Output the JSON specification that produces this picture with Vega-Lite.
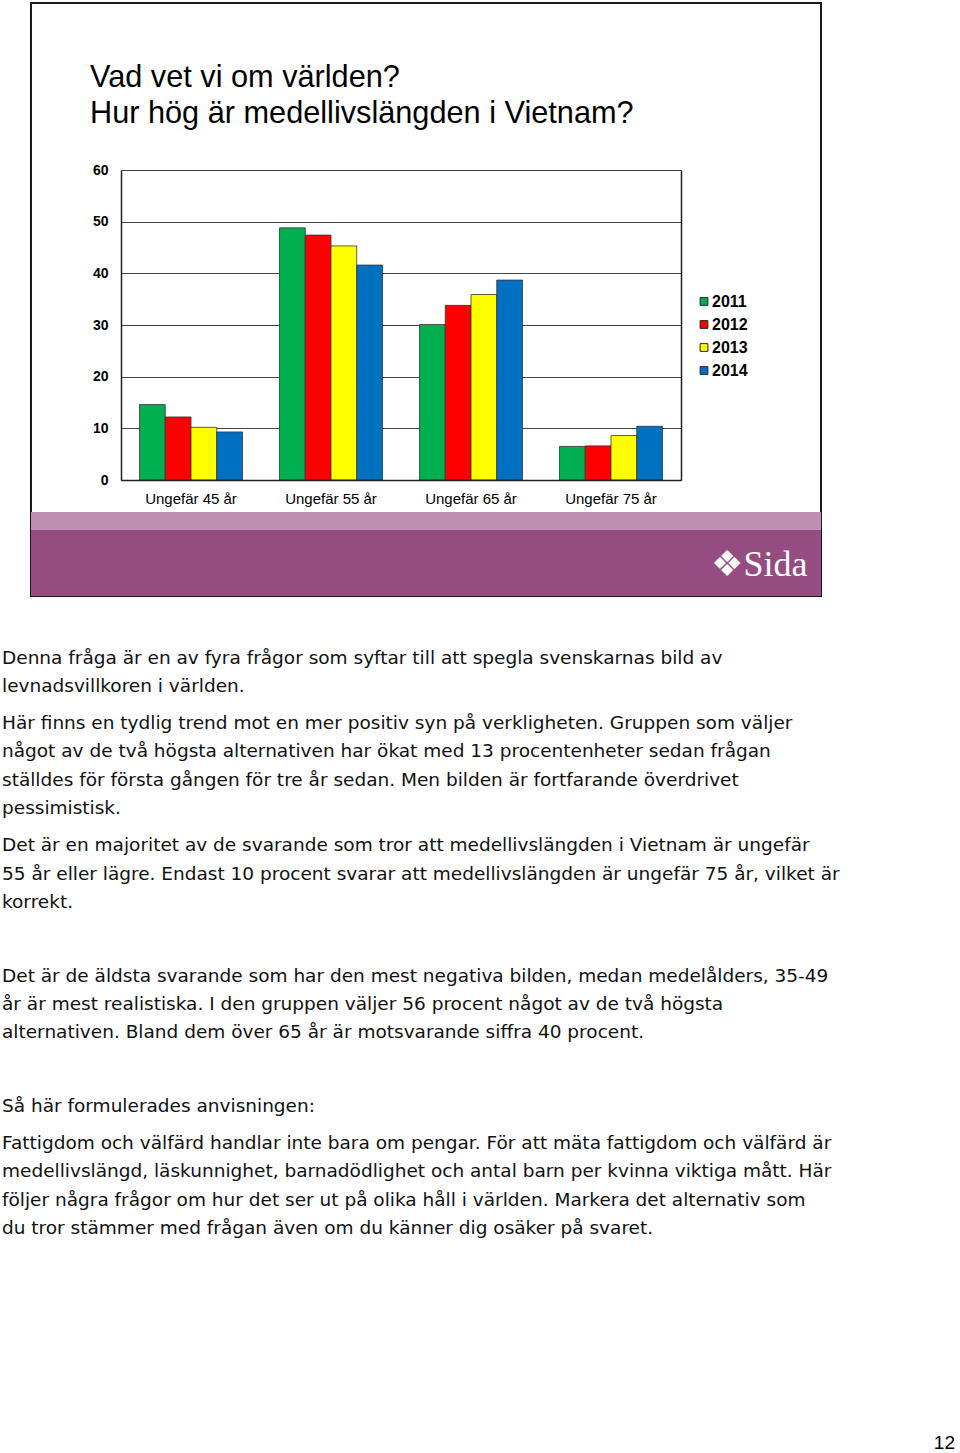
{
  "$schema": "https://vega.github.io/schema/vega-lite/v6.json",
  "background": "white",
  "padding": {"left": 2, "top": 2, "right": 0, "bottom": 0},
  "config": {"view": {"stroke": null}, "font": "Liberation Sans"},
  "spacing": 46.8,
  "vconcat": [
    {
      "spacing": 0,
      "hconcat": [
        {"width": 28, "height": 20, "data": {"values": []}, "mark": "point"},
        {
          "width": 790,
          "height": 593,
          "view": {"stroke": "#1a1a1a", "strokeWidth": 2, "fill": "white"},
          "title": {
            "text": ["Vad vet vi om världen?", "Hur hög är medellivslängden i Vietnam?"],
            "anchor": "start",
            "frame": "group",
            "dx": 59,
            "offset": -127,
            "font": "Liberation Sans",
            "fontSize": 30.7,
            "fontWeight": "normal",
            "color": "#000000",
            "lineHeight": 36
          },
          "resolve": {"axis": {"y": "independent"}},
          "layer": [
            {
              "data": {"values": [
                {"option": "Ungefär 45 år", "year": "2011", "percent": 14.6},
                {"option": "Ungefär 45 år", "year": "2012", "percent": 12.2},
                {"option": "Ungefär 45 år", "year": "2013", "percent": 10.2},
                {"option": "Ungefär 45 år", "year": "2014", "percent": 9.3},
                {"option": "Ungefär 55 år", "year": "2011", "percent": 48.8},
                {"option": "Ungefär 55 år", "year": "2012", "percent": 47.4},
                {"option": "Ungefär 55 år", "year": "2013", "percent": 45.3},
                {"option": "Ungefär 55 år", "year": "2014", "percent": 41.6},
                {"option": "Ungefär 65 år", "year": "2011", "percent": 30.1},
                {"option": "Ungefär 65 år", "year": "2012", "percent": 33.8},
                {"option": "Ungefär 65 år", "year": "2013", "percent": 35.9},
                {"option": "Ungefär 65 år", "year": "2014", "percent": 38.7},
                {"option": "Ungefär 75 år", "year": "2011", "percent": 6.5},
                {"option": "Ungefär 75 år", "year": "2012", "percent": 6.6},
                {"option": "Ungefär 75 år", "year": "2013", "percent": 8.6},
                {"option": "Ungefär 75 år", "year": "2014", "percent": 10.4}
              ]},
              "mark": {"type": "bar", "stroke": "#333333", "strokeWidth": 0.8},
              "encoding": {
                "x": {
                  "field": "option", "type": "nominal",
                  "sort": ["Ungefär 45 år", "Ungefär 55 år", "Ungefär 65 år", "Ungefär 75 år"],
                  "scale": {"range": [90, 650], "paddingInner": 0.264, "paddingOuter": 0.132},
                  "axis": {
                    "orient": "bottom", "offset": -116, "zindex": 1,
                    "domain": true, "domainColor": "#222222", "domainWidth": 1.5,
                    "ticks": false, "tickSize": 0, "labelPadding": 11,
                    "labelFont": "Liberation Sans", "labelFontSize": 15, "labelColor": "#000000", "labelAngle": 0,
                    "title": "❖Sida",
                    "titleFont": "Liberation Serif", "titleFontSize": 36, "titleFontWeight": "normal",
                    "titleColor": "#ffffff", "titleAlign": "right", "titleBaseline": "middle",
                    "titleX": 776, "titleY": 84
                  }
                },
                "xOffset": {"field": "year", "type": "nominal", "scale": {"paddingInner": 0, "paddingOuter": 0}},
                "y": {
                  "field": "percent", "type": "quantitative",
                  "scale": {"domain": [0, 60], "range": [477, 167], "nice": false, "zero": false},
                  "axis": {
                    "orient": "left", "offset": -90, "values": [0, 10, 20, 30, 40, 50, 60],
                    "grid": true, "gridColor": "#444444", "gridWidth": 1, "gridOpacity": 1,
                    "domain": true, "domainColor": "#222222", "domainWidth": 1.5,
                    "ticks": false, "tickSize": 0, "labelPadding": 13,
                    "labelFont": "Liberation Sans", "labelFontSize": 14, "labelFontWeight": "bold", "labelColor": "#000000",
                    "title": null
                  }
                },
                "color": {
                  "field": "year", "type": "nominal",
                  "scale": {"domain": ["2011", "2012", "2013", "2014"], "range": ["#00b050", "#ff0000", "#ffff00", "#0070c0"]},
                  "legend": {
                    "orient": "none", "legendX": 694, "legendY": 290.5, "title": null,
                    "symbolType": "square", "symbolSize": 60, "symbolStrokeColor": "#222222", "symbolStrokeWidth": 1,
                    "labelFont": "Liberation Sans", "labelFontSize": 16, "labelFontWeight": "bold", "labelColor": "#000000",
                    "labelOffset": 0, "rowPadding": 7
                  }
                }
              }
            },
            {
              "data": {"values": [{"band": "light"}]},
              "mark": {"type": "rect", "color": "#bf90b3"},
              "encoding": {
                "y": {
                  "datum": -6.19, "type": "quantitative",
                  "scale": {"domain": [0, 60], "range": [477, 167], "nice": false, "zero": false},
                  "axis": {"orient": "right", "offset": -140, "labels": false, "grid": false, "ticks": false,
                           "domain": true, "domainColor": "#222222", "domainWidth": 1.5, "title": null}
                },
                "y2": {"datum": -9.68}
              }
            },
            {
              "data": {"values": [{"band": "dark"}]},
              "mark": {"type": "rect", "color": "#954c80"},
              "encoding": {
                "y": {"datum": -9.68, "type": "quantitative", "axis": null},
                "y2": {"datum": -22.45}
              }
            }
          ]
        }
      ]
    },
    {
      "spacing": 8.14,
      "title": {"text": "12", "orient": "bottom", "anchor": "end", "offset": 192, "font": "Liberation Sans", "fontSize": 19, "fontWeight": "normal", "color": "#000000"},
      "vconcat": [
        {
          "width": 953, "height": 56.66,
          "data": {"values": [
            {"line": 1, "text": "Denna fråga är en av fyra frågor som syftar till att spegla svenskarnas bild av"},
            {"line": 2, "text": "levnadsvillkoren i världen."}
          ]},
          "mark": {"type": "text", "align": "left", "baseline": "middle", "font": "DejaVu Sans", "fontSize": 18.5, "color": "#111111"},
          "encoding": {
            "y": {"field": "line", "type": "ordinal", "axis": null, "scale": {"paddingInner": 0, "paddingOuter": 0}},
            "x": {"datum": 0, "type": "quantitative", "scale": {"domain": [0, 1]}, "axis": null},
            "text": {"field": "text"}
          }
        },
        {
          "width": 953, "height": 113.32,
          "data": {"values": [
            {"line": 1, "text": "Här finns en tydlig trend mot en mer positiv syn på verkligheten. Gruppen som väljer"},
            {"line": 2, "text": "något av de två högsta alternativen har ökat med 13 procentenheter sedan frågan"},
            {"line": 3, "text": "ställdes för första gången för tre år sedan. Men bilden är fortfarande överdrivet"},
            {"line": 4, "text": "pessimistisk."}
          ]},
          "mark": {"type": "text", "align": "left", "baseline": "middle", "font": "DejaVu Sans", "fontSize": 18.5, "color": "#111111"},
          "encoding": {
            "y": {"field": "line", "type": "ordinal", "axis": null, "scale": {"paddingInner": 0, "paddingOuter": 0}},
            "x": {"datum": 0, "type": "quantitative", "scale": {"domain": [0, 1]}, "axis": null},
            "text": {"field": "text"}
          }
        },
        {
          "width": 953, "height": 84.99,
          "data": {"values": [
            {"line": 1, "text": "Det är en majoritet av de svarande som tror att medellivslängden i Vietnam är ungefär"},
            {"line": 2, "text": "55 år eller lägre. Endast 10 procent svarar att medellivslängden är ungefär 75 år, vilket är"},
            {"line": 3, "text": "korrekt."}
          ]},
          "mark": {"type": "text", "align": "left", "baseline": "middle", "font": "DejaVu Sans", "fontSize": 18.5, "color": "#111111"},
          "encoding": {
            "y": {"field": "line", "type": "ordinal", "axis": null, "scale": {"paddingInner": 0, "paddingOuter": 0}},
            "x": {"datum": 0, "type": "quantitative", "scale": {"domain": [0, 1]}, "axis": null},
            "text": {"field": "text"}
          }
        },
        {
          "width": 953, "height": 28.33,
          "data": {"values": [{"line": 1, "text": ""}]},
          "mark": {"type": "text", "align": "left", "baseline": "middle", "font": "DejaVu Sans", "fontSize": 18.5, "color": "#111111"},
          "encoding": {
            "y": {"field": "line", "type": "ordinal", "axis": null, "scale": {"paddingInner": 0, "paddingOuter": 0}},
            "x": {"datum": 0, "type": "quantitative", "scale": {"domain": [0, 1]}, "axis": null},
            "text": {"field": "text"}
          }
        },
        {
          "width": 953, "height": 84.99,
          "data": {"values": [
            {"line": 1, "text": "Det är de äldsta svarande som har den mest negativa bilden, medan medelålders, 35-49"},
            {"line": 2, "text": "år är mest realistiska. I den gruppen väljer 56 procent något av de två högsta"},
            {"line": 3, "text": "alternativen. Bland dem över 65 år är motsvarande siffra 40 procent."}
          ]},
          "mark": {"type": "text", "align": "left", "baseline": "middle", "font": "DejaVu Sans", "fontSize": 18.5, "color": "#111111"},
          "encoding": {
            "y": {"field": "line", "type": "ordinal", "axis": null, "scale": {"paddingInner": 0, "paddingOuter": 0}},
            "x": {"datum": 0, "type": "quantitative", "scale": {"domain": [0, 1]}, "axis": null},
            "text": {"field": "text"}
          }
        },
        {
          "width": 953, "height": 28.33,
          "data": {"values": [{"line": 1, "text": ""}]},
          "mark": {"type": "text", "align": "left", "baseline": "middle", "font": "DejaVu Sans", "fontSize": 18.5, "color": "#111111"},
          "encoding": {
            "y": {"field": "line", "type": "ordinal", "axis": null, "scale": {"paddingInner": 0, "paddingOuter": 0}},
            "x": {"datum": 0, "type": "quantitative", "scale": {"domain": [0, 1]}, "axis": null},
            "text": {"field": "text"}
          }
        },
        {
          "width": 953, "height": 28.33,
          "data": {"values": [{"line": 1, "text": "Så här formulerades anvisningen:"}]},
          "mark": {"type": "text", "align": "left", "baseline": "middle", "font": "DejaVu Sans", "fontSize": 18.5, "color": "#111111"},
          "encoding": {
            "y": {"field": "line", "type": "ordinal", "axis": null, "scale": {"paddingInner": 0, "paddingOuter": 0}},
            "x": {"datum": 0, "type": "quantitative", "scale": {"domain": [0, 1]}, "axis": null},
            "text": {"field": "text"}
          }
        },
        {
          "width": 953, "height": 113.32,
          "data": {"values": [
            {"line": 1, "text": "Fattigdom och välfärd handlar inte bara om pengar. För att mäta fattigdom och välfärd är"},
            {"line": 2, "text": "medellivslängd, läskunnighet, barnadödlighet och antal barn per kvinna viktiga mått. Här"},
            {"line": 3, "text": "följer några frågor om hur det ser ut på olika håll i världen. Markera det alternativ som"},
            {"line": 4, "text": "du tror stämmer med frågan även om du känner dig osäker på svaret."}
          ]},
          "mark": {"type": "text", "align": "left", "baseline": "middle", "font": "DejaVu Sans", "fontSize": 18.5, "color": "#111111"},
          "encoding": {
            "y": {"field": "line", "type": "ordinal", "axis": null, "scale": {"paddingInner": 0, "paddingOuter": 0}},
            "x": {"datum": 0, "type": "quantitative", "scale": {"domain": [0, 1]}, "axis": null},
            "text": {"field": "text"}
          }
        }
      ]
    }
  ]
}
